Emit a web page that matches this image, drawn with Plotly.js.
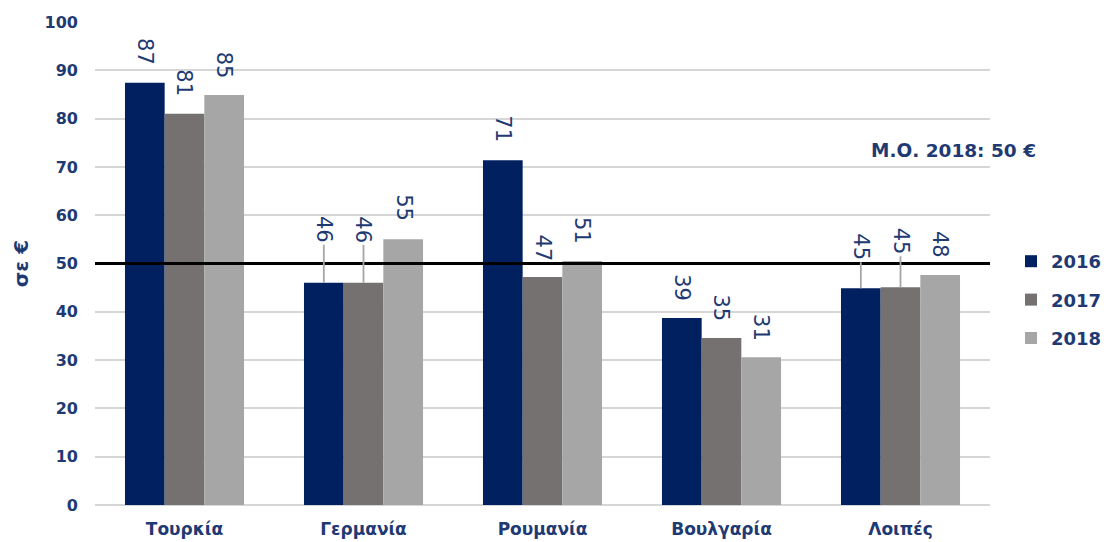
<!DOCTYPE html>
<html>
<head>
<meta charset="utf-8">
<script src="https://cdn.plot.ly/plotly-3.0.1.min.js"></script>
<style>html,body{margin:0;padding:0;background:#fff;}#chart{width:1108px;height:542px;}</style>
</head>
<body>
<div id="chart"></div>
<script>
// ---- data ----
const categories = ["Τουρκία", "Γερμανία", "Ρουμανία", "Βουλγαρία", "Λοιπές"];
const years = ["2016", "2017", "2018"];
const values2016 = [87.4, 46.0, 71.4, 38.7, 44.9];
const values2017 = [81.0, 46.0, 47.2, 34.6, 45.1];
const values2018 = [84.9, 55.0, 50.5, 30.6, 47.6];
const labels2016 = ["87", "46", "71", "39", "45"];
const labels2017 = ["81", "46", "47", "35", "45"];
const labels2018 = ["85", "55", "51", "31", "48"];
const average2018 = 50;
const averageLabel = "Μ.Ο. 2018: 50 €";
const yTitle = "σε €";

// ---- styles ----
const colors = ["#002060", "#767171", "#A6A6A6"];
const navy = "#1F3A73";
const bargap = 0.335;
// label offsets in px above bar top (bigger ones have leader lines)
const offsets = [
  [31, 53, 31, 30, 41],
  [31, 53, 29, 30, 46],
  [30, 32, 31, 30, 31]
];
const leaders = [
  [false, true, false, false, true],
  [false, true, false, false, true],
  [false, false, false, false, false]
];

const series = [values2016, values2017, values2018];
const labels = [labels2016, labels2017, labels2018];

const traces = series.map((vals, i) => ({
  type: "bar",
  name: years[i],
  x: categories,
  y: vals,
  marker: {color: colors[i], line: {width: 0}},
  legendgroup: "g" + i,
  hoverinfo: "x+y+name"
}));

const w = (1 - bargap) / 3;
const annotations = [];
series.forEach((vals, i) => {
  vals.forEach((v, j) => {
    annotations.push({
      xref: "x", yref: "y",
      x: j + (i - 1) * w, y: v,
      text: labels[i][j],
      textangle: 90,
      showarrow: true,
      arrowhead: 0,
      arrowwidth: 1.8,
      arrowcolor: leaders[i][j] ? "#A6A6A6" : "rgba(0,0,0,0)",
      ax: 0, ay: -offsets[i][j],
      standoff: 0,
      font: {family: "DejaVu Sans, Verdana, sans-serif", size: 21, color: navy}
    });
  });
});
annotations.push({
  xref: "paper", yref: "paper",
  x: (953 - 95) / 895, y: (505 - 150) / 483,
  text: "<b>" + averageLabel + "</b>",
  showarrow: false,
  xanchor: "center", yanchor: "middle",
  font: {family: "DejaVu Sans, Verdana, sans-serif", size: 18.5, color: navy}
});

const layout = {
  width: 1108, height: 542,
  margin: {l: 95, r: 118, t: 22, b: 37, autoexpand: false},
  paper_bgcolor: "#fff", plot_bgcolor: "#fff",
  barmode: "group",
  bargap: bargap,
  bargroupgap: 0,
  showlegend: true,
  legend: {
    xref: "container", yref: "container",
    x: 1011 / 1108, xanchor: "left", y: 1 - 300 / 542, yanchor: "middle",
    font: {family: "DejaVu Sans, Verdana, sans-serif", size: 18, color: navy, weight: "bold"},
    tracegroupgap: 12,
    itemwidth: 30
  },
  xaxis: {
    type: "category",
    range: [-0.5, 4.5],
    showgrid: false, showline: false, zeroline: false,
    ticks: "",
    tickfont: {family: "DejaVu Sans, Verdana, sans-serif", size: 17, color: navy, weight: "bold"},
    ticklabelstandoff: 12
  },
  yaxis: {
    range: [0, 100],
    dtick: 10,
    showgrid: true, gridcolor: "#d6d6d6", gridwidth: 2,
    zeroline: true, zerolinecolor: "#d6d6d6", zerolinewidth: 2,
    showline: false, ticks: "",
    tickfont: {family: "DejaVu Sans, Verdana, sans-serif", size: 16, color: navy, weight: "bold"},
    ticklabelstandoff: 16,
    title: {text: "<b>" + yTitle + "</b>", font: {family: "DejaVu Sans, Verdana, sans-serif", size: 20, color: navy}, standoff: 10}
  },
  shapes: [{
    type: "line", xref: "paper", yref: "y",
    x0: 0, x1: 1, y0: average2018, y1: average2018,
    line: {color: "#000", width: 3}
  }],
  annotations: annotations
};

Plotly.newPlot("chart", traces, layout, {displayModeBar: false, staticPlot: true});
</script>
</body>
</html>
